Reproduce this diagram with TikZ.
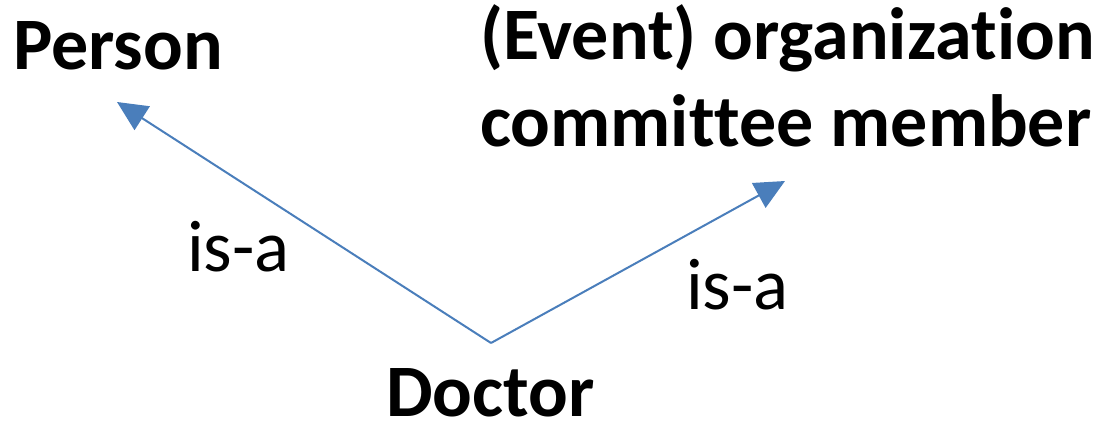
\documentclass[tikz,border=0pt]{standalone}
\usepackage{fontspec}
\setmainfont{Carlito}
\usetikzlibrary{arrows.meta}
\definecolor{officeblue}{HTML}{4A7EBB}
\newcommand{\nolig}{\kern0pt\relax}
\tikzset{
  x=1pt,y=1pt,
  bigtext/.style={font=\fontsize{74}{87}\selectfont\bfseries, inner sep=0pt, anchor=base west, align=left},
  lbltext/.style={font=\fontsize{73}{84}\selectfont, inner sep=0pt, anchor=base west},
  isa/.style={draw=officeblue, line width=2pt, -{Triangle[length=30pt,width=28pt]}}
}
\begin{document}
\begin{tikzpicture}
\useasboundingbox (0,0) rectangle (1099,425);
\node[bigtext] (person) at (13,355) {Person};
\node[bigtext] (org) at (480,365) {(Event) organizat\nolig ion};
\node[bigtext] (org2) at (480,278) {commit\nolig tee member};
\node[bigtext] (doctor) at (386,8) {Doctor};
\coordinate (v) at (491,82);
\coordinate (ptip) at (117,323);
\coordinate (otip) at (785,244);
\draw[isa] (v) -- (ptip);
\draw[isa] (v) -- (otip);
\node[lbltext] (l1) at (187,153) {is-a};
\node[lbltext] (l2) at (686,115) {is-a};
\end{tikzpicture}
\end{document}
